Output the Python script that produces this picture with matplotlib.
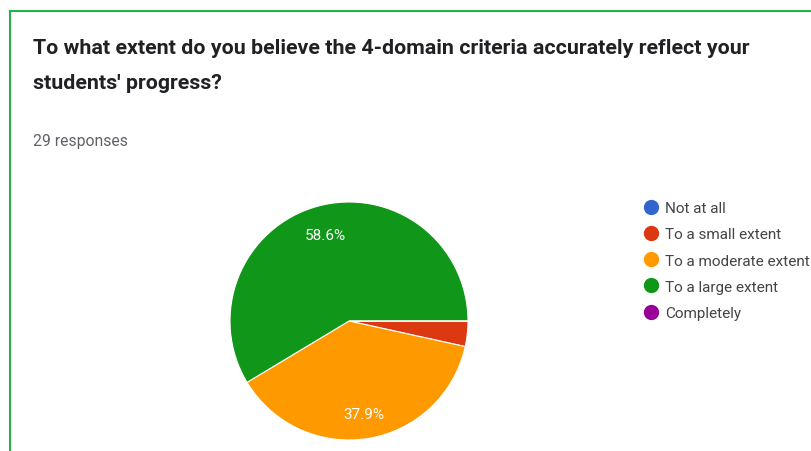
import matplotlib
matplotlib.use("Agg")
import matplotlib.pyplot as plt
from matplotlib.lines import Line2D

title_lines = ["To what extent do you believe the 4-domain criteria accurately reflect your",
               "students' progress?"]
subtitle = "29 responses"
labels = ["Not at all", "To a small extent", "To a moderate extent",
          "To a large extent", "Completely"]
counts = [0, 1, 11, 17, 0]
colors = ["#3366cc", "#dc3912", "#ff9900", "#109618", "#990099"]

W, H = 812, 452
fig = plt.figure(figsize=(W / 100, H / 100), dpi=100)
fig.patch.set_facecolor("white")
plt.rcParams["font.family"] = ["Roboto", "DejaVu Sans"]

# green card outline (left and top edges only)
fig.add_artist(Line2D([10 / W, 10 / W], [0, 1 - 12 / H], transform=fig.transFigure,
                      color="#22b14c", lw=1.5))
fig.add_artist(Line2D([10 / W, 1], [1 - 12 / H, 1 - 12 / H], transform=fig.transFigure,
                      color="#22b14c", lw=1.5))

for i, line in enumerate(title_lines):
    fig.text(33 / W, 1 - (54 + 35 * i) / H, line, ha="left", va="baseline",
             fontsize=15.4, fontweight="bold", color="#202124")
fig.text(33 / W, 1 - 142 / H, subtitle, ha="left", va="center", fontsize=11.3,
         color="#5f6368")

# pie
cx, cy, r = 349, 322, 119
ax = fig.add_axes([(cx - r) / W, (H - cy - r) / H, 2 * r / W, 2 * r / H])
ax.set_xlim(-1, 1)
ax.set_ylim(-1, 1)
ax.set_aspect("equal")
ax.axis("off")


def pct_label(p):
    return f"{p:.1f}%" if p > 5 else ""


wedges, _, autotexts = ax.pie(counts, colors=colors, startangle=0, counterclock=False,
                              radius=1, autopct=pct_label, pctdistance=0.75,
                              wedgeprops=dict(edgecolor="white", linewidth=0.8),
                              textprops=dict(color="white", fontsize=11))
# push the moderate label a bit further out
x, y = autotexts[2].get_position()
autotexts[2].set_position((x * 0.79 / 0.75, y * 0.79 / 0.75))
ax.set_xlim(-1, 1)
ax.set_ylim(-1, 1)

handles = [Line2D([], [], marker="o", linestyle="none", markersize=10,
                  markerfacecolor=c, markeredgecolor=c) for c in colors]
fig.legend(handles, labels, loc="upper left", bbox_to_anchor=(637 / W, 1 - 196 / H),
           frameon=False, fontsize=11, handletextpad=0.45, labelspacing=0.8,
           borderaxespad=0, handlelength=1.0, labelcolor="#444444")

fig.savefig("out.png", dpi=100)
